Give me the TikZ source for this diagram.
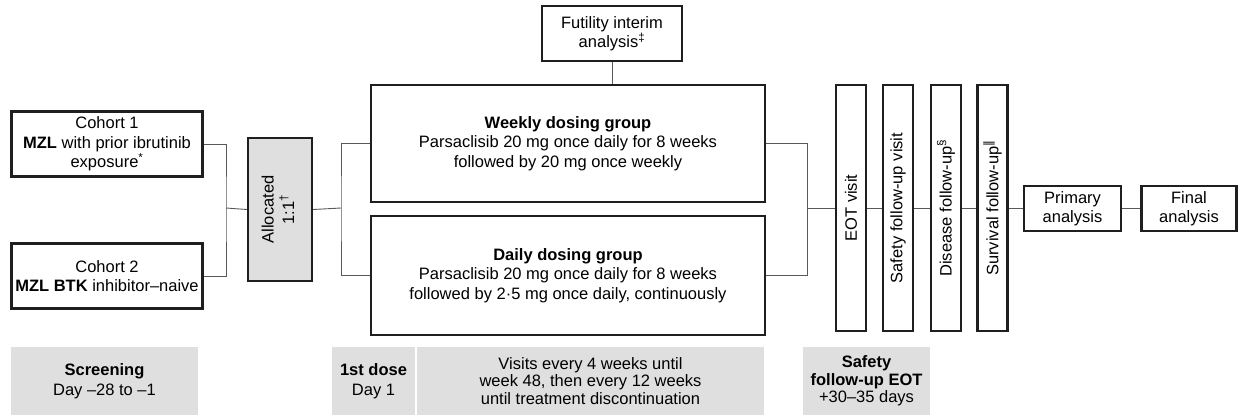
\documentclass[tikz,border=0pt]{standalone}
\usepackage{fontspec}
\setmainfont{Liberation Sans}
\newfontfamily\dejavu{DejaVu Sans}
\begin{document}
\begin{tikzpicture}[x=1pt,y=-1pt,
  box/.style={draw=black!88,line width=2.3pt,fill=white,align=center,inner sep=0pt,
    font=\fontsize{16.5}{19.5}\selectfont},
  vbox/.style={box,minimum width=30pt,minimum height=246pt},
  gbox/.style={fill=gray!25!white,align=center,inner sep=0pt,
    font=\fontsize{16.5}{20}\selectfont},
  conn/.style={draw=black!65,line width=0.9pt}]
\useasboundingbox (0,0) rectangle (1238,415);
% top-left cohorts
\node[box,minimum width=191pt,minimum height=65pt] (c1) at (107,144)
  {Cohort 1\\\textbf{MZL} with prior ibrutinib\\exposure\textsuperscript{*}};
\node[box,minimum width=191pt,minimum height=65pt] (c2) at (107,276)
  {Cohort 2\\\textbf{MZL BTK} inhibitor--naive};
\node[box,fill=gray!25!white,minimum width=64pt,minimum height=143pt] (al) at (280,209.5)
  {\rotatebox{90}{\begin{tabular}{@{}c@{}}Allocated\\1:1\textsuperscript{\dag}\end{tabular}}};
% treatment groups
\node[box,minimum width=394pt,minimum height=117pt] (wk) at (568,143.5)
  {\textbf{Weekly dosing group}\\Parsaclisib 20 mg once daily for 8 weeks\\followed by 20 mg once weekly};
\node[box,minimum width=394pt,minimum height=119pt] (dy) at (568,275.5)
  {\textbf{Daily dosing group}\\Parsaclisib 20 mg once daily for 8 weeks\\followed by 2·5 mg once daily, continuously};
\node[box,minimum width=140pt,minimum height=55pt] (fu) at (612,33.5)
  {Futility interim\\analysis\textsuperscript{\ddag}};
% follow-up columns
\node[vbox] (eot) at (851,208) {\rotatebox{90}{EOT visit}};
\node[vbox] (sf) at (898,208) {\rotatebox{90}{Safety follow-up visit}};
\node[vbox] (df) at (946,208) {\rotatebox{90}{Disease follow-up\textsuperscript{§}}};
\node[vbox] (sv) at (992.5,208) {\rotatebox{90}{Survival follow-up\textsuperscript{\dejavu ‖}}};
\node[box,minimum width=97pt,minimum height=45pt] (pa) at (1072.5,208.5) {Primary\\analysis};
\node[box,minimum width=95pt,minimum height=45pt] (fa) at (1189,208.5) {Final\\analysis};
% junctions
\coordinate (j1) at (226,208);
\coordinate (j2) at (341,208);
\coordinate (j3) at (807,208);
\draw[conn] (c1.east) -| (j1) |- (c2.east);
\draw[conn] (j1) -- (al.west);
\draw[conn] (al.east) -- (j2);
\draw[conn] (wk.west) -| (j2) |- (dy.west);
\draw[conn] (wk.east) -| (j3) |- (dy.east);
\draw[conn] (j3) -- (eot.west);
\draw[conn] (eot.east) -- (sf.west);
\draw[conn] (sf.east) -- (df.west);
\draw[conn] (df.east) -- (sv.west);
\draw[conn] (sv.east) -- (sv.east -| pa.west);
\draw[conn] (pa.east) -- (pa.east -| fa.west);
\draw[conn] (fu.south) -- (fu.south |- wk.north);
% bottom timeline
\node[gbox,minimum width=187pt,minimum height=68pt] (sc) at (104.5,381)
  {\textbf{Screening}\\Day --28 to --1};
\node[gbox,minimum width=83pt,minimum height=68pt] (fd) at (373.5,381)
  {\textbf{1st dose}\\Day 1};
\node[gbox,minimum width=347pt,minimum height=68pt,font=\fontsize{16.5}{17.5}\selectfont] (vi) at (590.5,381)
  {Visits every 4 weeks until\\week 48, then every 12 weeks\\until treatment discontinuation};
\node[gbox,minimum width=127pt,minimum height=68pt,font=\fontsize{16.5}{17.5}\selectfont] (se) at (866.5,381)
  {\textbf{Safety}\\\textbf{follow-up EOT}\\+30--35 days};
\end{tikzpicture}
\end{document}
